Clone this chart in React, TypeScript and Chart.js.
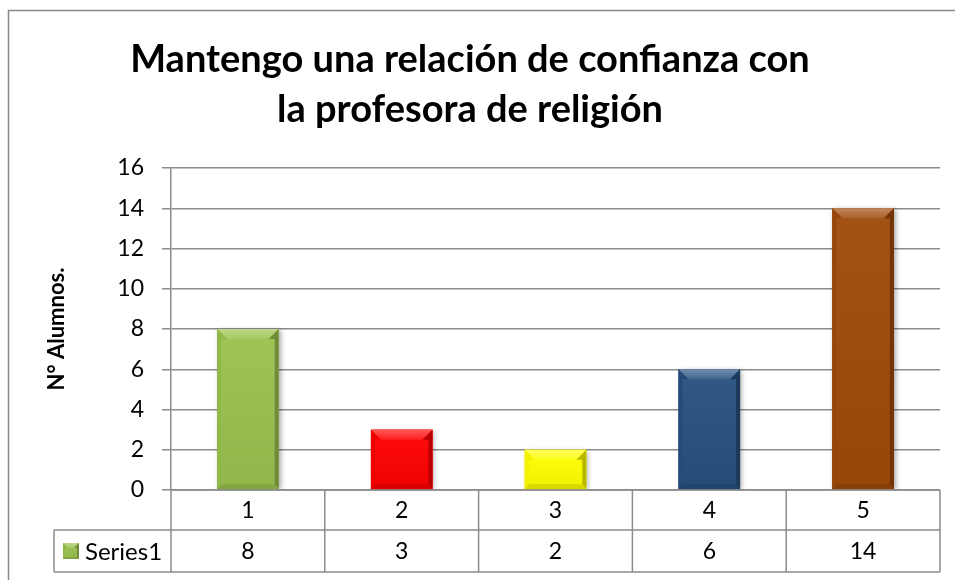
import React, { useEffect, useRef } from "react";
import { Chart, registerables } from "chart.js";

Chart.register(...registerables);

// ---------- data ----------
const titleLines = ["Mantengo una relación de confianza con", "la profesora de religión"];
const yAxisTitle = "N° Alumnos.";
const categories = ["1", "2", "3", "4", "5"];
const seriesName = "Series1";
const seriesValues = [8, 3, 2, 6, 14];
const barColors = ["#9BC24E", "#FF0000", "#FFFF00", "#27507F", "#9E4A0A"];
const legendColor = "#9BC24E";
const yMin = 0;
const yMax = 16;
const yStep = 2;

// ---------- style ----------
const FONT = "Lato, 'Open Sans', sans-serif";
const GRID = "#8c8c8c";

function shade(hex: string, amt: number): string {
  const n = parseInt(hex.slice(1), 16);
  let r = (n >> 16) & 255, g = (n >> 8) & 255, b = n & 255;
  if (amt >= 0) {
    r = r + (255 - r) * amt; g = g + (255 - g) * amt; b = b + (255 - b) * amt;
  } else {
    r = r * (1 + amt); g = g * (1 + amt); b = b * (1 + amt);
  }
  return `rgb(${Math.round(r)},${Math.round(g)},${Math.round(b)})`;
}

function drawBevelBox(ctx: CanvasRenderingContext2D, l: number, t: number, r: number, b: number, col: string, d: number, s: number, s2: number) {
  const poly = (pts: number[][], fill: any) => {
    ctx.beginPath();
    ctx.moveTo(pts[0][0], pts[0][1]);
    for (let i = 1; i < pts.length; i++) ctx.lineTo(pts[i][0], pts[i][1]);
    ctx.closePath();
    ctx.fillStyle = fill;
    ctx.fill();
  };
  // body gradient
  const g = ctx.createLinearGradient(0, t, 0, b);
  g.addColorStop(0, shade(col, 0.05));
  g.addColorStop(1, shade(col, -0.06));
  ctx.fillStyle = g;
  ctx.fillRect(l, t, r - l, b - t);
  // top bevel
  const gt = ctx.createLinearGradient(0, t, 0, t + d);
  gt.addColorStop(0, shade(col, 0.35));
  gt.addColorStop(1, shade(col, 0.12));
  poly([[l, t], [r, t], [r - d, t + d], [l + d, t + d]], gt);
  // left side
  poly([[l, t], [l + d, t + d], [l + s, t + d], [l + s, b - s2], [l, b]], shade(col, -0.05));
  // right side
  poly([[r, t], [r - d, t + d], [r - s, t + d], [r - s, b - s2], [r, b]], shade(col, -0.28));
  // bottom
  poly([[l, b], [l + s, b - s2], [r - s, b - s2], [r, b]], shade(col, -0.15));
}

const bevelPlugin = {
  id: "bevel",
  beforeDatasetsDraw(chart: any) {
    const ctx = chart.ctx;
    ctx.save();
    ctx.shadowColor = "rgba(0,0,0,0.35)";
    ctx.shadowBlur = 5;
    ctx.shadowOffsetX = 2;
    ctx.shadowOffsetY = 1;
  },
  afterDatasetsDraw(chart: any) {
    const ctx = chart.ctx;
    ctx.restore();
    const meta = chart.getDatasetMeta(0);
    meta.data.forEach((bar: any, i: number) => {
      const { x, y, base, width } = bar.getProps(["x", "y", "base", "width"], true);
      const l = x - width / 2, r = x + width / 2;
      const t = Math.min(y, base), b = Math.max(y, base);
      const h = b - t;
      const d = Math.min(10, h / 2);
      ctx.save();
      drawBevelBox(ctx, l, t, r, b, barColors[i % barColors.length], d, 4, Math.min(5, h / 4));
      ctx.restore();
    });
  },
};

const tablePlugin = {
  id: "dataTable",
  afterDraw(chart: any) {
    const ctx: CanvasRenderingContext2D = chart.ctx;
    const xs = chart.scales.x;
    const area = chart.chartArea;
    const n = chart.data.labels.length;
    const colW = (area.right - area.left) / n;
    const top = area.bottom;
    const rowH1 = 40;
    const rowH2 = 42;
    const mid = top + rowH1;
    const bot = mid + rowH2;
    const legendLeft = 54;

    ctx.save();
    // frame
    ctx.strokeStyle = "#8a8a8a";
    ctx.lineWidth = 1.5;
    ctx.beginPath();
    ctx.moveTo(8.5, chart.height + 2);
    ctx.lineTo(8.5, 10.5);
    ctx.lineTo(chart.width + 2, 10.5);
    ctx.stroke();

    ctx.strokeStyle = GRID;
    ctx.lineWidth = 1.5;
    ctx.beginPath();
    ctx.moveTo(area.left, top); ctx.lineTo(area.right, top);
    ctx.moveTo(legendLeft, mid); ctx.lineTo(area.right, mid);
    ctx.moveTo(legendLeft, bot); ctx.lineTo(area.right, bot);
    ctx.moveTo(legendLeft, mid); ctx.lineTo(legendLeft, bot);
    for (let i = 0; i <= n; i++) {
      const cx = i < n ? xs.getPixelForValue(i) - colW / 2 : xs.getPixelForValue(n - 1) + colW / 2;
      ctx.moveTo(cx, top); ctx.lineTo(cx, bot);
    }
    ctx.stroke();

    ctx.fillStyle = "#000";
    ctx.font = `23px ${FONT}`;
    ctx.textBaseline = "middle";
    ctx.textAlign = "center";
    const ds = chart.data.datasets[0];
    for (let i = 0; i < n; i++) {
      const cx = xs.getPixelForValue(i);
      ctx.fillText(String(chart.data.labels[i]), cx, top + rowH1 / 2 + 1);
      ctx.fillText(String(ds.data[i]), cx, mid + rowH2 / 2 + 1);
    }
    // legend key
    const ky = mid + rowH2 / 2 - 8;
    drawBevelBox(ctx, 63, ky, 79, ky + 16, legendColor, 5, 2, 2);
    ctx.fillStyle = "#000";
    ctx.textAlign = "left";
    ctx.font = `24px ${FONT}`;
    ctx.fillText(ds.label, 85, mid + rowH2 / 2 + 1);
    ctx.restore();
  },
};

export default function App() {
  const ref = useRef<HTMLCanvasElement | null>(null);

  useEffect(() => {
    document.body.style.margin = "0";
    const canvas = ref.current;
    if (!canvas) return;
    const chart = new Chart(canvas, {
      type: "bar",
      data: {
        labels: categories,
        datasets: [
          {
            label: seriesName,
            data: seriesValues,
            backgroundColor: barColors,
            borderWidth: 0,
            barPercentage: 0.4,
            categoryPercentage: 1,
          },
        ],
      },
      options: {
        responsive: false,
        animation: false,
        devicePixelRatio: 1,
        layout: { padding: { left: 0, right: 15, top: 0, bottom: 0 } },
        plugins: {
          legend: { display: false },
          tooltip: { enabled: false },
          title: {
            display: true,
            text: titleLines,
            color: "#000",
            font: { family: FONT, size: 38, weight: "bold", lineHeight: 50 / 38 },
            padding: { top: 35, bottom: 33 },
          },
        },
        scales: {
          x: {
            type: "category",
            offset: true,
            grid: { display: false },
            border: { display: false },
            ticks: { display: false },
            afterFit: (scale: any) => { scale.height = 90; },
          },
          y: {
            min: yMin,
            max: yMax,
            ticks: {
              stepSize: yStep,
              color: "#000",
              padding: 18,
              font: { family: FONT, size: 23 },
            },
            grid: { color: GRID, lineWidth: 1.5, tickLength: 9, drawTicks: true },
            border: { display: true, color: GRID, width: 1.5 },
            title: {
              display: true,
              text: yAxisTitle,
              color: "#000",
              font: { family: FONT, size: 22, weight: "bold", lineHeight: 1.2 },
              padding: { top: 44, bottom: 0 },
            },
            afterFit: (scale: any) => { scale.width = 171; },
          },
        },
      },
      plugins: [bevelPlugin, tablePlugin],
    } as any);
    return () => chart.destroy();
  }, []);

  return (
    <div style={{ width: 955, height: 580 }}>
      <canvas ref={ref} width={955} height={580} style={{ display: "block" }} />
    </div>
  );
}
